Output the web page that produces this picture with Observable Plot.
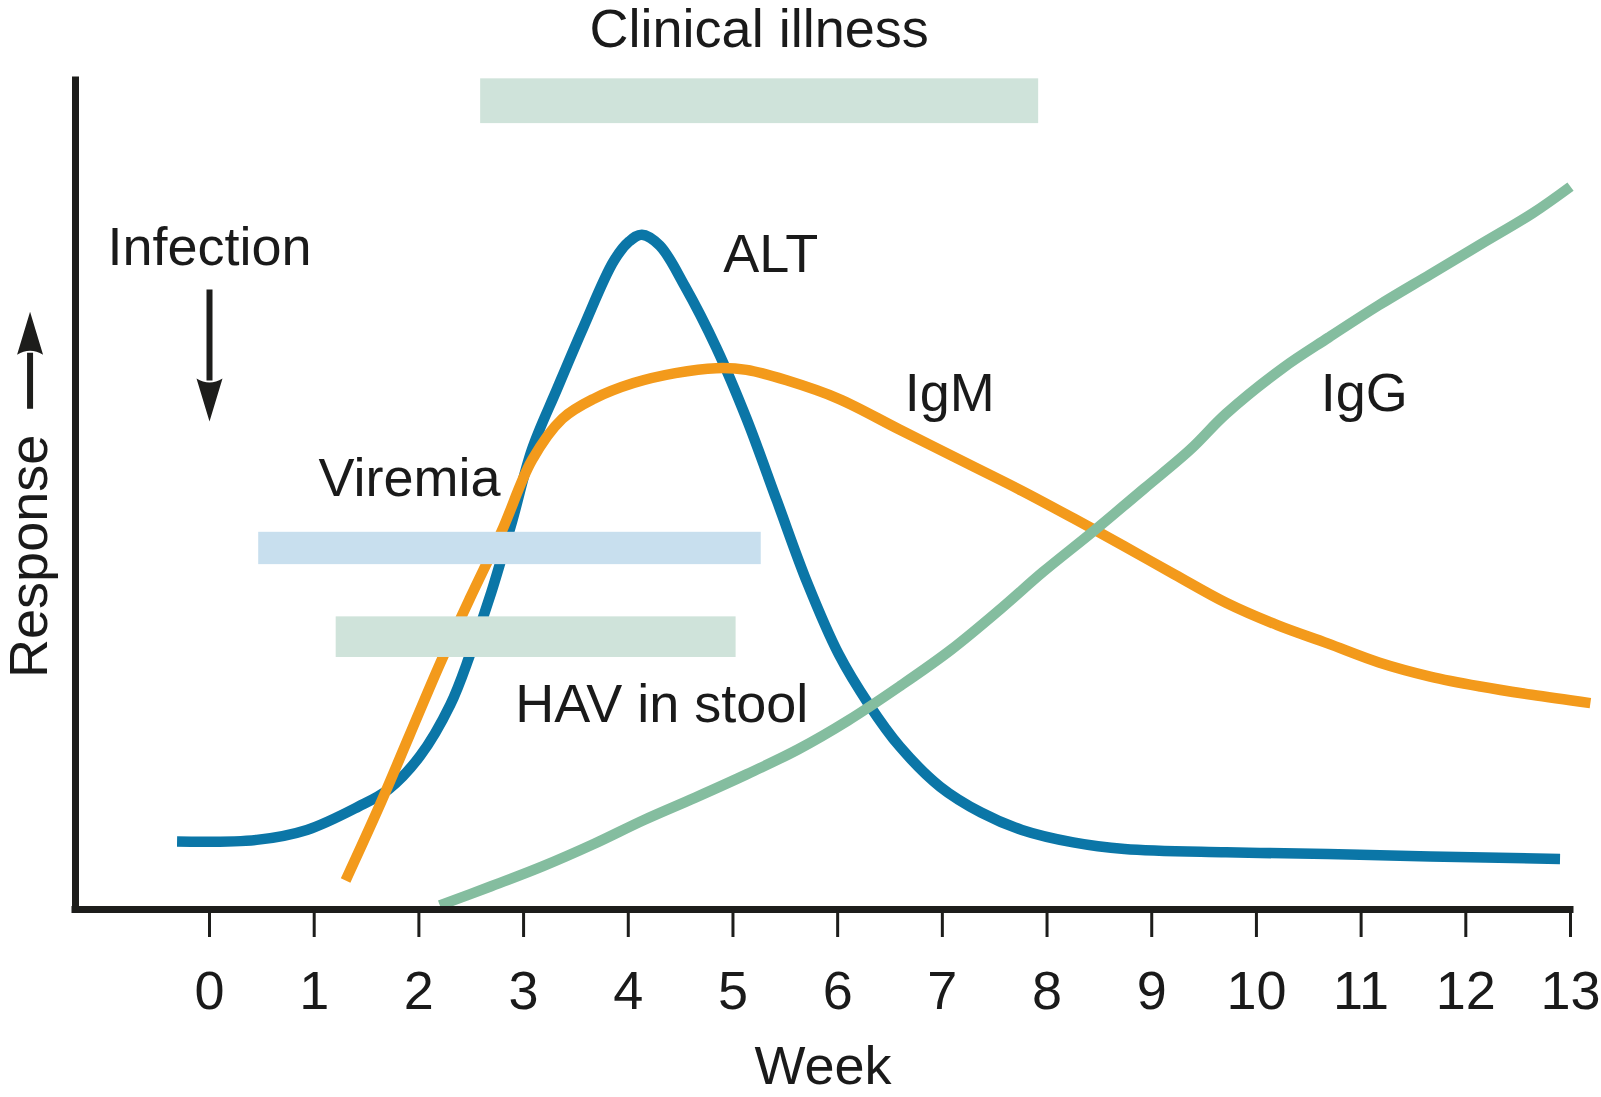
<!DOCTYPE html>
<html>
<head>
<meta charset="utf-8">
<script src="https://cdn.jsdelivr.net/npm/d3@7"></script>
<script src="https://cdn.jsdelivr.net/npm/@observablehq/plot@0.6"></script>
<style>
  html, body { margin: 0; padding: 0; background: #ffffff; }
  #chart { width: 1601px; height: 1097px; }
</style>
</head>
<body>
<div id="chart"></div>
<script>
// ---------- data ----------
const weekTicks = [0, 1, 2, 3, 4, 5, 6, 7, 8, 9, 10, 11, 12, 13];

const altWeeks = [-0.31, 0.45, 0.93, 1.42, 1.71, 2.01, 2.30, 2.49, 2.69, 2.89, 3.08, 3.32, 3.57, 3.86, 4.01, 4.13, 4.30, 4.54, 4.84, 5.13, 5.42, 5.71, 6.01, 6.30, 6.59, 6.98, 7.37, 7.76, 8.25, 8.74, 9.71, 10.68, 11.66, 12.90];
const altResp  = [8.2, 8.4, 9.6, 12.4, 14.5, 18.5, 24.7, 30.8, 38.2, 46.8, 55.5, 62.8, 70.2, 78.2, 80.6, 81.4, 80.1, 75.2, 67.8, 59.2, 49.3, 39.4, 30.8, 24.7, 19.7, 14.8, 11.7, 9.6, 8.1, 7.3, 6.9, 6.7, 6.4, 6.1];

const igmWeeks = [1.30, 1.62, 1.91, 2.20, 2.49, 2.79, 3.08, 3.37, 3.67, 4.05, 4.45, 4.84, 5.13, 5.52, 6.01, 6.59, 7.27, 7.76, 8.25, 8.74, 9.22, 9.71, 10.20, 10.68, 11.17, 11.66, 12.14, 12.63, 13.19];
const igmResp  = [3.5, 12.4, 21.0, 29.6, 37.6, 45.6, 54.2, 59.2, 61.6, 63.5, 64.7, 65.3, 65.1, 63.8, 61.6, 57.9, 53.6, 50.5, 47.2, 43.8, 40.4, 37.0, 34.3, 32.1, 29.8, 28.1, 26.9, 25.9, 24.9];

const iggWeeks = [2.20, 2.69, 3.18, 3.67, 4.15, 4.64, 5.13, 5.62, 6.10, 6.59, 7.08, 7.57, 7.96, 8.44, 8.93, 9.37, 9.71, 10.25, 10.69, 11.17, 11.66, 12.15, 12.64, 13.00];
const iggResp  = [0.5, 2.8, 5.2, 7.9, 10.8, 13.5, 16.3, 19.3, 22.8, 26.9, 31.3, 36.4, 40.7, 45.6, 50.8, 55.5, 59.8, 65.3, 69.0, 72.9, 76.6, 80.3, 84.0, 87.2];

const barNames = ["Clinical illness", "Viremia", "HAV in stool"];
const barStart = [2.59, 0.47, 1.21];
const barEnd   = [7.92, 5.27, 5.03];
const barLow   = [94.8, 41.6, 30.4];
const barHigh  = [100.2, 45.5, 35.3];

const labelText = ["Clinical illness", "Infection", "ALT", "IgM", "IgG", "Viremia", "HAV in stool"];
const labelWeek = [5.25, 0.0, 5.36, 7.07, 11.03, 1.91, 4.32];
const labelResp = [106.1, 79.8, 79.0, 62.2, 62.2, 52.0, 24.7];

// arrows: infection (down, at week 0) and response (up, beside the y axis)
const arrowNames = ["Infection", "Response"];
const arrowWeek  = [0.0, -1.714];
const arrowResp  = [74.8, 60.4];
const arrowDir   = [180, 0];

// ---------- styles ----------
const seriesColor = { ALT: "#0b76a7", IgM: "#f39a1b", IgG: "#84bd9f" };
const barColor = { "Clinical illness": "#cfe3da", "Viremia": "#c8dfee", "HAV in stool": "#cfe3da" };
const ink = "#1d1d1b";
const textInk = "#1a1a1a";
const FS = 54;
const arrowLength = { Infection: 132, Response: 97 };

// ---------- tables ----------
const series = [
  ...altWeeks.map((w, i) => ({ name: "ALT", week: w, resp: altResp[i] })),
  ...igmWeeks.map((w, i) => ({ name: "IgM", week: w, resp: igmResp[i] })),
  ...iggWeeks.map((w, i) => ({ name: "IgG", week: w, resp: iggResp[i] }))
];
const bars = barNames.map((n, i) => ({ name: n, x1: barStart[i], x2: barEnd[i], y1: barLow[i], y2: barHigh[i] }));
const labels = labelText.map((t, i) => ({ text: t, week: labelWeek[i], resp: labelResp[i] }));
const arrows = arrowNames.map((n, i) => ({ name: n, week: arrowWeek[i], resp: arrowResp[i], dir: arrowDir[i] }));

const xDomain = [-1.28, 13];

function arrowShape(total) {
  return {
    draw(context) {
      const l = total, head = 43, half = 13, stem = 3;
      context.moveTo(-stem, 0);
      context.lineTo(-stem, -l + head - 2);
      context.lineTo(stem, -l + head - 2);
      context.lineTo(stem, 0);
      context.closePath();
      context.moveTo(-half, -l + head);
      context.lineTo(0, -l);
      context.lineTo(half, -l + head);
      context.quadraticCurveTo(0, -l + head - 8, -half, -l + head);
      context.closePath();
    }
  };
}

const chart = Plot.plot({
  width: 1601,
  height: 1097,
  marginLeft: 75,
  marginRight: 31,
  marginTop: 80,
  marginBottom: 188,
  x: { domain: xDomain },
  y: { domain: [0, 100], axis: null },
  style: { fontFamily: "'Liberation Sans', Arial, Helvetica, sans-serif", background: "#ffffff", color: textInk, overflow: "visible" },
  marks: [
    Plot.line(series, {
      x: "week", y: "resp", z: "name",
      stroke: d => seriesColor[d.name],
      strokeWidth: 10.5, curve: "catmull-rom", strokeLinecap: "butt", strokeLinejoin: "round"
    }),
    Plot.rect(bars, { x1: "x1", x2: "x2", y1: "y1", y2: "y2", fill: d => barColor[d.name] }),
    Plot.ruleX([xDomain[0]], { y1: 0, y2: 100, stroke: ink, strokeWidth: 7, strokeLinecap: "square" }),
    Plot.ruleY([0], { x1: xDomain[0], x2: 13, stroke: ink, strokeWidth: 7, strokeLinecap: "square" }),
    Plot.axisX(weekTicks, {
      tickSize: 28, tickPadding: 33, fontSize: FS, stroke: ink, strokeWidth: 3,
      fill: textInk, label: null, tickFormat: d => `${d}`
    }),
    Plot.text(labels, { x: "week", y: "resp", text: "text", fontSize: FS, fill: textInk }),
    Plot.text(["Week"], { frameAnchor: "bottom", dy: 174, fontSize: FS, fill: textInk }),
    Plot.text(["Response"], { x: -1.714, y: 42.6, rotate: -90, fontSize: FS, fill: textInk }),
    ...arrows.map(a => Plot.vector([a], {
      x: "week", y: "resp", rotate: "dir", anchor: "start", length: 1,
      shape: arrowShape(arrowLength[a.name]), fill: ink, stroke: "none"
    }))
  ]
});

document.getElementById("chart").appendChild(chart);
</script>
</body>
</html>
